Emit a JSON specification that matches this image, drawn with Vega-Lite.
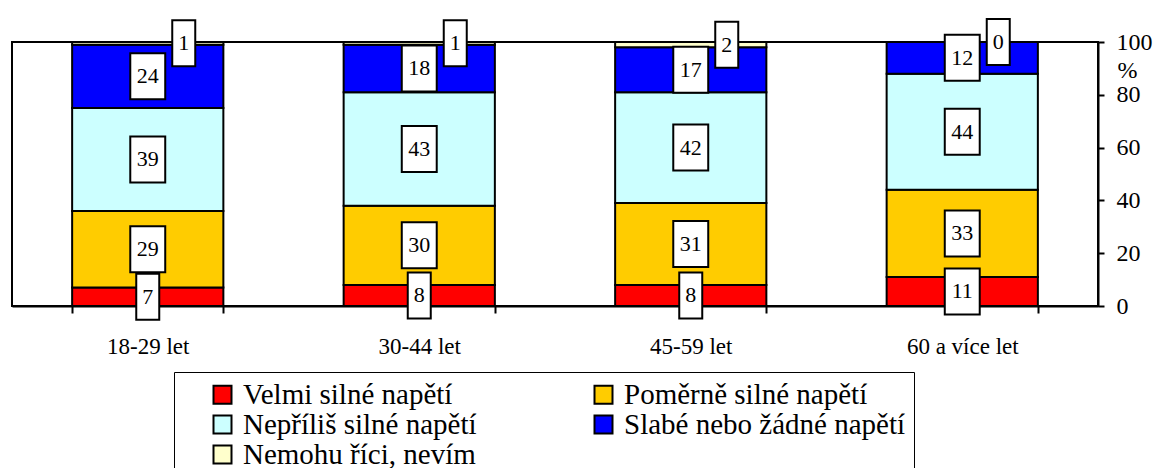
{
  "$schema": "https://vega.github.io/schema/vega-lite/v6.json",
  "autosize": {"type": "none"},
  "width": 1086,
  "height": 264,
  "padding": {"left": 12, "top": 42, "right": 59, "bottom": 162},
  "background": "white",
  "config": {
    "view": {"stroke": "black", "strokeWidth": 2},
    "font": "Liberation Serif"
  },
  "data": {
    "values": [
      {"age": "18-29 let", "s": "Velmi silné napětí", "v": 7},
      {"age": "18-29 let", "s": "Poměrně silné napětí", "v": 29},
      {"age": "18-29 let", "s": "Nepříliš silné napětí", "v": 39},
      {"age": "18-29 let", "s": "Slabé nebo žádné napětí", "v": 24},
      {"age": "18-29 let", "s": "Nemohu říci, nevím", "v": 1},
      {"age": "30-44 let", "s": "Velmi silné napětí", "v": 8},
      {"age": "30-44 let", "s": "Poměrně silné napětí", "v": 30},
      {"age": "30-44 let", "s": "Nepříliš silné napětí", "v": 43},
      {"age": "30-44 let", "s": "Slabé nebo žádné napětí", "v": 18},
      {"age": "30-44 let", "s": "Nemohu říci, nevím", "v": 1},
      {"age": "45-59 let", "s": "Velmi silné napětí", "v": 8},
      {"age": "45-59 let", "s": "Poměrně silné napětí", "v": 31},
      {"age": "45-59 let", "s": "Nepříliš silné napětí", "v": 42},
      {"age": "45-59 let", "s": "Slabé nebo žádné napětí", "v": 17},
      {"age": "45-59 let", "s": "Nemohu říci, nevím", "v": 2},
      {"age": "60 a více let", "s": "Velmi silné napětí", "v": 11},
      {"age": "60 a více let", "s": "Poměrně silné napětí", "v": 33},
      {"age": "60 a více let", "s": "Nepříliš silné napětí", "v": 44},
      {"age": "60 a více let", "s": "Slabé nebo žádné napětí", "v": 12},
      {"age": "60 a více let", "s": "Nemohu říci, nevím", "v": 0}
    ]
  },
  "transform": [
    {"calculate": "indexof(['Velmi silné napětí','Poměrně silné napětí','Nepříliš silné napětí','Slabé nebo žádné napětí','Nemohu říci, nevím'], datum.s)", "as": "o"},
    {"stack": "v", "groupby": ["age"], "sort": [{"field": "o", "order": "ascending"}], "as": ["y0", "y1"]},
    {"calculate": "(datum.y0 + datum.y1) * 0.5", "as": "mid"}
  ],
  "encoding": {
    "x": {
      "field": "age",
      "type": "nominal",
      "sort": ["18-29 let", "30-44 let", "45-59 let", "60 a více let"],
      "scale": {"paddingInner": 0.443, "paddingOuter": 0.2215},
      "axis": {
        "title": null,
        "labelAngle": 0,
        "labelFont": "Liberation Serif",
        "labelFontSize": 23,
        "labelColor": "black",
        "labelPadding": 22,
        "domainColor": "black",
        "domainWidth": 2,
        "tickColor": "black",
        "tickWidth": 2,
        "tickSize": 7,
        "tickBand": "extent"
      }
    }
  },
  "layer": [
    {
      "mark": {"type": "bar", "stroke": "black", "strokeWidth": 2, "opacity": 1},
      "encoding": {
        "y": {
          "field": "y0",
          "type": "quantitative",
          "scale": {"domain": [0, 100], "nice": false},
          "axis": {
            "orient": "right",
            "values": [0, 20, 40, 60, 80, 100],
            "grid": false,
            "title": "%",
            "titleAngle": 0,
            "titleX": 19,
            "titleY": 28,
            "titleAlign": "left",
            "titleBaseline": "middle",
            "titleFont": "Liberation Serif",
            "titleFontSize": 24,
            "titleFontWeight": "normal",
            "titleColor": "black",
            "labelFont": "Liberation Serif",
            "labelFontSize": 24,
            "labelColor": "black",
            "labelPadding": 12,
            "domainColor": "black",
            "domainWidth": 2,
            "tickColor": "black",
            "tickWidth": 2,
            "tickSize": 6
          }
        },
        "y2": {"field": "y1"},
        "color": {
          "field": "s",
          "type": "nominal",
          "scale": {
            "domain": ["Velmi silné napětí", "Poměrně silné napětí", "Nepříliš silné napětí", "Slabé nebo žádné napětí", "Nemohu říci, nevím"],
            "range": ["#FF0000", "#FFCC00", "#CCFFFF", "#0000FF", "#FFFFCC"]
          },
          "legend": {
            "orient": "none",
            "legendX": 162,
            "legendY": 330,
            "direction": "horizontal",
            "columns": 2,
            "title": "\u00a0",
            "titleOrient": "left",
            "titleFont": "Liberation Serif",
            "titleFontSize": 29,
            "titlePadding": 26,
            "padding": 8,
            "strokeColor": "black",
            "fillColor": "white",
            "symbolType": "square",
            "symbolSize": 324,
            "symbolStrokeColor": "black",
            "symbolStrokeWidth": 2,
            "symbolOpacity": 1,
            "labelFont": "Liberation Serif",
            "labelFontSize": 29,
            "labelColor": "black",
            "labelOffset": 6,
            "labelLimit": 0,
            "labelExpr": "datum.label + '\u00a0\u00a0\u00a0\u00a0\u00a0\u00a0\u00a0\u00a0\u00a0\u00a0'",
            "rowPadding": 0,
            "columnPadding": 112
          }
        }
      }
    },
    {
      "transform": [{"filter": "datum.o < 4 && datum.v >= 10"}],
      "mark": {"type": "point", "filled": true, "fill": "white", "stroke": "black", "strokeWidth": 2, "opacity": 1, "size": 2116, "shape": "M-0.76,-1H0.76V1H-0.76Z"},
      "encoding": {
        "y": {"field": "mid", "type": "quantitative"}
      }
    },
    {
      "transform": [{"filter": "datum.o < 4 && datum.v < 10"}],
      "mark": {"type": "point", "filled": true, "fill": "white", "stroke": "black", "strokeWidth": 2, "opacity": 1, "size": 2116, "shape": "M-0.5,-1H0.5V1H-0.5Z"},
      "encoding": {
        "y": {"field": "mid", "type": "quantitative"}
      }
    },
    {
      "transform": [{"filter": "datum.o < 4"}],
      "mark": {"type": "text", "font": "Liberation Serif", "fontSize": 22, "color": "black", "baseline": "middle", "align": "center"},
      "encoding": {
        "y": {"field": "mid", "type": "quantitative"},
        "text": {"field": "v", "type": "quantitative"}
      }
    },
    {
      "transform": [{"filter": "datum.o == 4"}],
      "mark": {"type": "point", "filled": true, "fill": "white", "stroke": "black", "strokeWidth": 2, "opacity": 1, "size": 2116, "xOffset": 36, "shape": "M-0.5,-1H0.5V1H-0.5Z"},
      "encoding": {
        "y": {"field": "mid", "type": "quantitative"}
      }
    },
    {
      "transform": [{"filter": "datum.o == 4"}],
      "mark": {"type": "text", "font": "Liberation Serif", "fontSize": 22, "color": "black", "baseline": "middle", "align": "center", "dx": 36},
      "encoding": {
        "y": {"field": "mid", "type": "quantitative"},
        "text": {"field": "v", "type": "quantitative"}
      }
    }
  ]
}
